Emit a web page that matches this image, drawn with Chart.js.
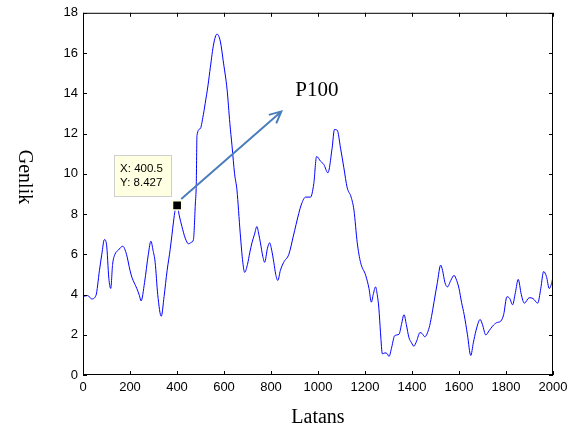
<!DOCTYPE html>
<html>
<head>
<meta charset="utf-8">
<script src="https://cdn.jsdelivr.net/npm/chart.js@4/dist/chart.umd.min.js"></script>
<style>
  html, body { margin: 0; padding: 0; background: #fff; }
  #wrap { width: 576px; height: 432px; }
</style>
</head>
<body>
<div id="wrap"><canvas id="myChart" width="576" height="432"></canvas></div>
<script>
// values
const latans = [0, 20, 37, 55, 70, 80, 91, 100, 110, 118, 126, 136, 150, 169, 185, 200, 208, 229, 240, 247,
  262, 278, 289, 298, 307, 318, 333, 345, 358, 371, 385, 392, 400.5, 410, 421, 435, 449, 462, 470, 478,
  482, 485, 499, 510, 520, 532, 542, 556, 570, 584, 598, 613, 625, 634, 645, 655, 669, 680, 688, 700,
  710, 719, 730, 740, 748, 755, 765, 773, 785, 794, 803, 812, 820, 829, 840, 854, 876, 895, 918, 930,
  947, 968, 982, 994, 1011, 1025, 1042, 1060, 1070, 1082, 1096, 1110, 1124, 1141, 1153, 1167, 1181, 1203, 1217, 1227,
  1235, 1245, 1252, 1259, 1266, 1274, 1285, 1295, 1302, 1314, 1326, 1345, 1355, 1366, 1376, 1387, 1398, 1408, 1420, 1434,
  1444, 1454, 1473, 1483, 1494, 1508, 1522, 1530, 1540, 1551, 1565, 1579, 1590, 1600, 1611, 1622, 1636, 1650, 1661, 1672,
  1690, 1700, 1714, 1728, 1743, 1760, 1778, 1790, 1804, 1816, 1828, 1840, 1852, 1865, 1878, 1899, 1915, 1935, 1948, 1960,
  1972, 1984, 1995, 2000];
const genlik = [3.9, 3.95, 3.78, 3.95, 5.2, 6.0, 6.73, 6.5, 4.8, 4.3, 5.5, 6.0, 6.2, 6.4, 6.0, 5.2, 4.86, 4.3, 3.95, 3.68,
  4.6, 6.0, 6.65, 6.2, 5.6, 4.0, 2.92, 3.9, 5.2, 6.24, 7.6, 8.19, 8.427, 7.9, 7.38, 6.8, 6.52, 6.6, 6.73, 8.5,
  9.5, 11.9, 12.24, 12.8, 13.5, 14.4, 15.3, 16.45, 16.94, 16.6, 15.5, 14.2, 12.5, 11.4, 10.0, 9.2, 7.05, 5.6, 5.1, 5.5,
  6.1, 6.57, 7.0, 7.38, 7.0, 6.57, 5.9, 5.6, 6.3, 6.57, 6.2, 5.6, 5.0, 4.7, 5.2, 5.6, 6.0, 6.9, 8.02, 8.5,
  8.84, 8.84, 9.5, 10.86, 10.62, 10.46, 10.05, 11.27, 12.2, 12.16, 11.27, 10.3, 9.32, 8.84, 8.19, 6.57, 5.6, 4.95, 4.3, 3.62,
  4.0, 4.38, 4.0, 3.32, 2.1, 1.05, 1.1, 1.05, 0.92, 1.4, 1.95, 2.03, 2.5, 3.0, 2.5, 1.86, 1.6, 1.43, 1.7, 2.11,
  2.05, 1.9, 2.35, 2.9, 3.65, 4.6, 5.46, 5.2, 4.6, 4.38, 4.7, 4.95, 4.7, 4.3, 3.6, 3.0, 2.0, 0.97, 1.6, 2.19,
  2.76, 2.5, 1.99, 2.2, 2.43, 2.6, 2.68, 3.0, 3.89, 3.8, 3.49, 4.1, 4.75, 4.0, 3.57, 3.84, 3.8, 3.57, 4.3, 5.14,
  4.9, 4.3, 4.6, 4.91];

// data tip point and arrow (data units)
const tipX = 400.5;
const tipY = 8.427;
const arrowFrom = [418, 8.75];
const arrowTo = [844, 13.1];
const arrowLabel = "P100";

const xTicks = [0, 200, 400, 600, 800, 1000, 1200, 1400, 1600, 1800, 2000];
const yTicks = [0, 2, 4, 6, 8, 10, 12, 14, 16, 18];

Chart.defaults.font.family = "'Liberation Sans', Arial, sans-serif";
Chart.defaults.font.size = 13;
Chart.defaults.color = "#000";

const lineData = latans.map((x, i) => ({ x: x, y: genlik[i] }));

// box, inward ticks, data tip, arrow and labels, MATLAB style
const figurePlugin = {
  id: "figurePlugin",
  afterDatasetsDraw(chart) {
    const ctx = chart.ctx;
    const a = chart.chartArea;
    const xs = chart.scales.x;
    const ys = chart.scales.y;
    ctx.save();

    // box
    ctx.strokeStyle = "#000";
    ctx.lineWidth = 1;
    ctx.strokeRect(a.left + 0.5, a.top + 0.5, a.right - a.left - 1, a.bottom - a.top - 1);

    // inward ticks
    const tl = 4;
    ctx.beginPath();
    xTicks.forEach(v => {
      const px = Math.round(xs.getPixelForValue(v)) + 0.5;
      ctx.moveTo(px, a.bottom); ctx.lineTo(px, a.bottom - tl);
      ctx.moveTo(px, a.top); ctx.lineTo(px, a.top + tl);
    });
    yTicks.forEach(v => {
      const py = Math.round(ys.getPixelForValue(v)) + 0.5;
      ctx.moveTo(a.left, py); ctx.lineTo(a.left + tl, py);
      ctx.moveTo(a.right, py); ctx.lineTo(a.right - tl, py);
    });
    ctx.stroke();

    // arrow
    const x0 = xs.getPixelForValue(arrowFrom[0]), y0 = ys.getPixelForValue(arrowFrom[1]);
    const x1 = xs.getPixelForValue(arrowTo[0]), y1 = ys.getPixelForValue(arrowTo[1]);
    ctx.strokeStyle = "#4a7ebb";
    ctx.lineWidth = 2;
    ctx.beginPath();
    ctx.moveTo(x0, y0); ctx.lineTo(x1, y1);
    const ang = Math.atan2(y1 - y0, x1 - x0);
    const hl = 13;
    ctx.moveTo(x1 - hl * Math.cos(ang - 0.45), y1 - hl * Math.sin(ang - 0.45));
    ctx.lineTo(x1, y1);
    ctx.lineTo(x1 - hl * Math.cos(ang + 0.45), y1 - hl * Math.sin(ang + 0.45));
    ctx.stroke();

    // arrow label
    ctx.fillStyle = "#000";
    ctx.font = "21px 'Liberation Serif', 'Times New Roman', serif";
    ctx.textAlign = "left";
    ctx.textBaseline = "alphabetic";
    ctx.fillText(arrowLabel, x1 + 14, y1 - 15);

    // data tip box
    const mx = xs.getPixelForValue(tipX), my = ys.getPixelForValue(tipY);
    const bx = mx - 63, by = my - 50, bw = 57, bh = 41;
    ctx.fillStyle = "#ffffe1";
    ctx.fillRect(bx, by, bw, bh);
    ctx.strokeStyle = "#cfcfcf";
    ctx.lineWidth = 1;
    ctx.strokeRect(Math.round(bx) + 0.5, Math.round(by) + 0.5, bw, bh);
    ctx.fillStyle = "#000";
    ctx.font = "11.5px 'Liberation Sans', Arial, sans-serif";
    ctx.fillText("X: " + tipX, bx + 6, by + 17);
    ctx.fillText("Y: " + tipY, bx + 6, by + 31);

    // axis titles
    ctx.font = "20px 'Liberation Serif', 'Times New Roman', serif";
    ctx.textAlign = "center";
    ctx.fillText("Latans", (a.left + a.right) / 2, 423);
    ctx.save();
    ctx.translate(24, 177);
    ctx.rotate(Math.PI / 2);
    ctx.textBaseline = "middle";
    ctx.fillText("Genlik", 0, 0);
    ctx.restore();

    ctx.restore();
  }
};

new Chart("myChart", {
  type: "line",
  data: {
    datasets: [
      {
        data: [{ x: tipX, y: tipY }],
        showLine: false,
        pointStyle: "rect",
        pointRadius: 6.5,
        backgroundColor: "#000",
        borderColor: "#ffffe1",
        borderWidth: 1.5
      },
      {
        data: lineData,
        borderColor: "#0000ff",
        borderWidth: 1,
        pointRadius: 0,
        cubicInterpolationMode: "monotone",
        fill: false
      }
    ]
  },
  options: {
    responsive: false,
    animation: false,
    layout: { padding: { top: 5, right: 23, left: 0, bottom: 0 } },
    plugins: {
      legend: { display: false },
      tooltip: { enabled: false },
      title: { display: false }
    },
    scales: {
      x: {
        type: "linear",
        min: 0,
        max: 2000,
        afterFit: s => { s.height = 57; },
        afterBuildTicks: s => { s.ticks = xTicks.map(v => ({ value: v })); },
        grid: { display: false, drawTicks: false },
        border: { display: false },
        ticks: { padding: 5, maxRotation: 0, autoSkip: false, callback: v => String(v) }
      },
      y: {
        type: "linear",
        min: 0,
        max: 18,
        afterFit: s => { s.width = 83; },
        afterBuildTicks: s => { s.ticks = yTicks.map(v => ({ value: v })); },
        grid: { display: false, drawTicks: false },
        border: { display: false },
        ticks: { padding: 5, autoSkip: false, callback: v => String(v) }
      }
    }
  },
  plugins: [figurePlugin]
});
</script>
</body>
</html>
